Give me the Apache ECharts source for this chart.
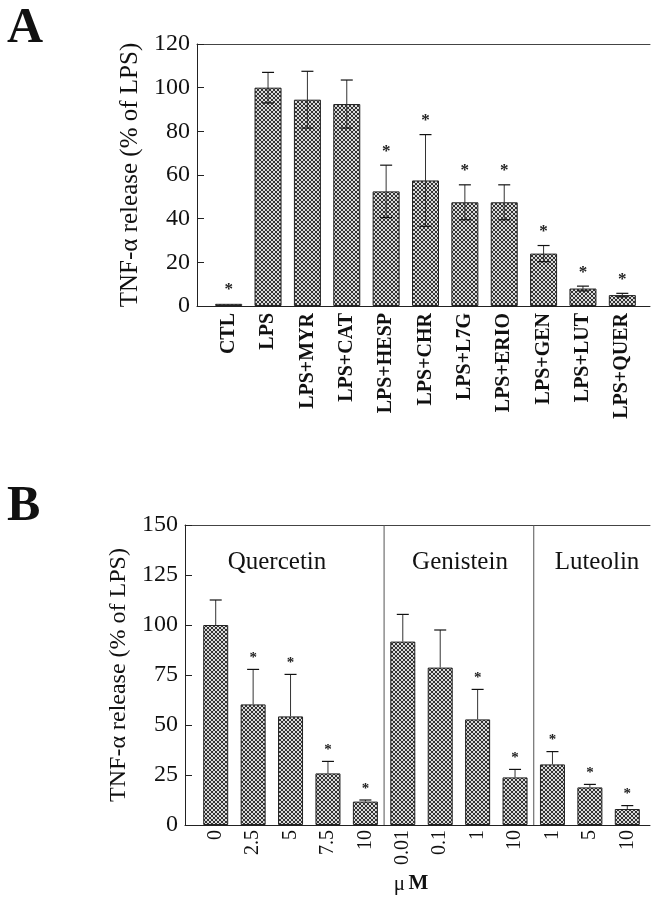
<!DOCTYPE html>
<html>
<head>
<meta charset="utf-8">
<script src="https://cdn.jsdelivr.net/npm/echarts@6/dist/echarts.min.js"></script>
<style>
  html, body { margin: 0; padding: 0; background: #fff; }
  #chart { width: 652px; height: 903px; }
</style>
</head>
<body>
<div id="chart"></div>
<script>
// panel A: single treatments
var catsA = ['CTL', 'LPS', 'LPS+MYR', 'LPS+CAT', 'LPS+HESP', 'LPS+CHR', 'LPS+L7G', 'LPS+ERIO', 'LPS+GEN', 'LPS+LUT', 'LPS+QUER']
var valsA = [1, 100, 94.5, 92.5, 52.5, 57.5, 47.5, 47.5, 24, 8, 5]
var errA = [0, 7, 13, 11, 12, 21, 8, 8, 3.7, 1.1, 0.8]
var starA = [1, 0, 0, 0, 1, 1, 1, 1, 1, 1, 1]
var ticksA = { min: 0, max: 120, step: 20 }

// panel B: dose response (uM)
var catsB = ['0', '2.5', '5', '7.5', '10', '0.01', '0.1', '1', '10', '1', '5', '10']
var valsB = [100, 60.3, 54.3, 25.8, 11.7, 91.7, 78.7, 52.8, 23.8, 30.3, 18.8, 8]
var errB = [12.5, 17.5, 21, 6, 0.8, 13.6, 18.8, 15, 4, 6.4, 1.5, 1.7]
var starB = [0, 1, 1, 1, 1, 0, 0, 1, 1, 1, 1, 1]
var groupNames = ['Quercetin', 'Genistein', 'Luteolin']
var groupSizes = [5, 4, 3]
var ticksB = { min: 0, max: 150, step: 25 }

var serif = '"Liberation Serif", "DejaVu Serif", serif'

// cross-hatch fill like the printed bars
function hatch () {
  var c = document.createElement('canvas')
  c.width = 4
  c.height = 4
  var g = c.getContext('2d')
  g.fillStyle = '#dadada'
  g.fillRect(0, 0, 4, 4)
  g.fillStyle = '#333'
  for (var i = 0; i < 4; i++) {
    g.fillRect(i, i, 1, 1)
    g.fillRect(3 - i, i, 1, 1)
  }
  return { image: c, repeat: 'repeat' }
}
var fill = hatch()

function frameAxes (gridIndex) {
  var base = {
    gridIndex: gridIndex,
    type: 'value',
    min: 0,
    max: 1,
    axisLine: { show: true, lineStyle: { color: '#222', width: 1 } },
    axisTick: { show: false },
    axisLabel: { show: false },
    splitLine: { show: false }
  }
  return [
    Object.assign({}, base, { position: 'bottom' }),
    Object.assign({}, base, { position: 'top', axisLine: { show: true, lineStyle: { color: '#444', width: 1 } } })
  ]
}

function frameY (gridIndex, t, nameGap, nameSize) {
  return {
    gridIndex: gridIndex,
    type: 'value',
    min: t.min,
    max: t.max,
    interval: t.step,
    name: 'TNF-α release (% of LPS)',
    nameLocation: 'middle',
    nameGap: nameGap,
    nameTextStyle: { fontFamily: serif, fontSize: nameSize, color: '#111' },
    axisLine: { show: true, lineStyle: { color: '#222', width: 1 } },
    axisTick: { show: true, inside: true, length: 7, lineStyle: { color: '#222' } },
    axisLabel: { fontFamily: serif, fontSize: 24, color: '#111', margin: 7 },
    splitLine: { show: false }
  }
}

function dataX (gridIndex, cats, bold, size, margin) {
  return {
    gridIndex: gridIndex,
    type: 'category',
    data: cats,
    axisLine: { show: false },
    axisTick: { show: false },
    axisLabel: {
      interval: 0,
      rotate: 90,
      margin: margin,
      fontFamily: serif,
      fontWeight: bold ? 'bold' : 'normal',
      fontSize: size,
      color: '#111'
    }
  }
}

function dataY (gridIndex, t) {
  return { gridIndex: gridIndex, type: 'value', min: t.min, max: t.max, show: false, splitLine: { show: false } }
}

// error whiskers + significance stars
function errSeries (xi, yi, vals, errs, stars, both, starGap, starSize) {
  var data = vals.map(function (v, i) { return [i, v, errs[i], stars[i]] })
  return {
    type: 'custom',
    xAxisIndex: xi,
    yAxisIndex: yi,
    z: 5,
    silent: true,
    data: data,
    renderItem: function (params, api) {
      var i = api.value(0)
      var v = api.value(1)
      var e = api.value(2)
      var top = api.coord([i, v + e])
      var low = api.coord([i, both ? v - e : v])
      var kids = []
      var st = { stroke: '#333', lineWidth: 1 }
      if (e > 0) {
        kids.push({ type: 'line', shape: { x1: top[0], y1: top[1], x2: low[0], y2: low[1] }, style: st })
        kids.push({ type: 'line', shape: { x1: top[0] - 6, y1: top[1], x2: top[0] + 6, y2: top[1] }, style: { stroke: '#111', lineWidth: 1.2 } })
        if (both) {
          kids.push({ type: 'line', shape: { x1: low[0] - 6, y1: low[1], x2: low[0] + 6, y2: low[1] }, style: { stroke: '#111', lineWidth: 1.2 } })
        }
      }
      if (api.value(3)) {
        kids.push({
          type: 'text',
          style: {
            text: '*',
            x: top[0],
            y: top[1] - starGap,
            align: 'center',
            verticalAlign: 'middle',
            font: 'bold ' + starSize + 'px ' + serif,
            fill: '#222'
          }
        })
      }
      return { type: 'group', children: kids }
    }
  }
}

// vertical separators between compound groups in B (after last bar of each group)
var splitIdx = []
var acc = 0
for (var g = 0; g < groupSizes.length - 1; g++) {
  acc += groupSizes[g]
  splitIdx.push([acc - 1, ticksB.min])
}

var option = {
  animation: false,
  grid: [
    { left: 197, right: 2, top: 44, height: 262 },
    { left: 209, width: 433, top: 44, height: 262 },
    { left: 185, right: 2, top: 525, height: 300 },
    { left: 197, width: 449, top: 525, height: 300 }
  ],
  xAxis: [].concat(
    frameAxes(0),
    [dataX(1, catsA, true, 20, 7)],
    frameAxes(2),
    [dataX(3, catsB, false, 20, 5)]
  ),
  yAxis: [
    frameY(0, ticksA, 54, 25),
    dataY(1, ticksA),
    frameY(2, ticksB, 47, 24),
    dataY(3, ticksB)
  ],
  series: [
    {
      type: 'bar',
      xAxisIndex: 2,
      yAxisIndex: 1,
      barWidth: 27,
      data: valsA,
      itemStyle: { color: fill, borderColor: '#222', borderWidth: 1 }
    },
    errSeries(2, 1, valsA, errA, starA, true, 14, 17),
    {
      type: 'bar',
      xAxisIndex: 5,
      yAxisIndex: 3,
      barWidth: 25,
      data: valsB,
      itemStyle: { color: fill, borderColor: '#222', borderWidth: 1 }
    },
    errSeries(5, 3, valsB, errB, starB, false, 11, 15),
    {
      type: 'custom',
      xAxisIndex: 5,
      yAxisIndex: 3,
      silent: true,
      data: splitIdx,
      renderItem: function (params, api) {
        var i = api.value(0)
        var band = api.size([1, 0])[0]
        var b = api.coord([i, ticksB.min])
        var t = api.coord([i, ticksB.max])
        var x = b[0] + band / 2
        return { type: 'line', shape: { x1: x, y1: b[1], x2: x, y2: t[1] }, style: { stroke: '#555', lineWidth: 1 } }
      }
    }
  ],
  graphic: [
    { type: 'text', left: 7, top: 4, style: { text: 'A', font: 'bold 50px ' + serif, fill: '#111' } },
    { type: 'text', left: 7, top: 482, style: { text: 'B', font: 'bold 50px ' + serif, fill: '#111' } },
    { type: 'text', x: 277, y: 562, style: { text: groupNames[0], font: '25px ' + serif, fill: '#111', align: 'center', verticalAlign: 'middle' } },
    { type: 'text', x: 460, y: 562, style: { text: groupNames[1], font: '25px ' + serif, fill: '#111', align: 'center', verticalAlign: 'middle' } },
    { type: 'text', x: 597, y: 562, style: { text: groupNames[2], font: '25px ' + serif, fill: '#111', align: 'center', verticalAlign: 'middle' } },
    {
      type: 'text',
      x: 411,
      y: 884,
      style: {
        text: '{a|μ} {b|M}',
        align: 'center',
        verticalAlign: 'middle',
        rich: {
          a: { fontFamily: serif, fontSize: 21, fill: '#111' },
          b: { fontFamily: serif, fontSize: 21, fontWeight: 'bold', fill: '#111' }
        }
      }
    }
  ]
}

var charts = echarts.init(document.getElementById('chart'))
charts.setOption(option)
window.addEventListener('resize', function () { charts.resize() })
</script>
</body>
</html>
